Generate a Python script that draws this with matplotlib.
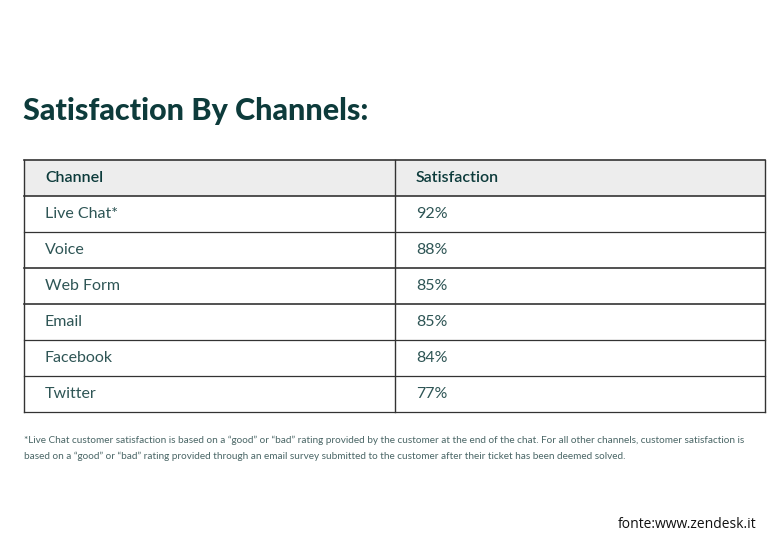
import matplotlib
matplotlib.use("Agg")
import matplotlib.pyplot as plt
from matplotlib.patches import Rectangle

title = "Satisfaction By Channels:"
columns = ["Channel", "Satisfaction"]
channels = ["Live Chat*", "Voice", "Web Form", "Email", "Facebook", "Twitter"]
satisfaction = [92, 88, 85, 85, 84, 77]
footnote = ["*Live Chat customer satisfaction is based on a \u201cgood\u201d or \u201cbad\u201d rating provided by the customer at the end of the chat. For all other channels, customer satisfaction is",
            "based on a \u201cgood\u201d or \u201cbad\u201d rating provided through an email survey submitted to the customer after their ticket has been deemed solved."]
source = "fonte:www.zendesk.it"

W, H = 779, 550
fig = plt.figure(figsize=(W/100, H/100), dpi=100)
ax = fig.add_axes([0, 0, 1, 1])
ax.set_xlim(0, W); ax.set_ylim(H, 0); ax.axis("off")

dark = "#0d3b3b"; txt = "#2e5555"; lc = "#333333"
ax.text(23, 111, title, fontsize=22, fontweight="heavy", color=dark, va="center", ha="left", family="Lato")

x0, xm, x1 = 24, 395, 765
top, rh = 160, 36
n = len(channels) + 1
ax.add_patch(Rectangle((x0, top), x1-x0, rh, facecolor="#ededed", edgecolor="none"))
for i in range(n + 1):
    y = top + i*rh
    ax.plot([x0, x1], [y, y], color=lc, lw=1.2 if i in (0, 1, 3, 4) else 0.9)
for x in (x0, xm, x1):
    ax.plot([x, x], [top, top + n*rh], color=lc, lw=1.0)

ax.text(45, top + rh/2, columns[0], fontsize=11.5, color=dark, va="center", family="Lato", fontweight="semibold")
ax.text(416, top + rh/2, columns[1], fontsize=11.5, color=dark, va="center", family="Lato", fontweight="semibold")
for i, (c, s) in enumerate(zip(channels, satisfaction)):
    yc = top + (i + 1.5)*rh
    ax.text(45, yc, c, fontsize=11.5, color=txt, va="center", family="Lato")
    ax.text(416, yc, f"{s}%", fontsize=11.5, color=txt, va="center", family="Lato")

for j, line in enumerate(footnote):
    ax.text(24, 440 + j*16, line, fontsize=7.2, color="#4a6666", va="center", family="Lato")
ax.text(756, 525, source, fontsize=10, color="#111111", ha="right", va="center", family="Open Sans")

fig.savefig("out.png", dpi=100, facecolor="white")
